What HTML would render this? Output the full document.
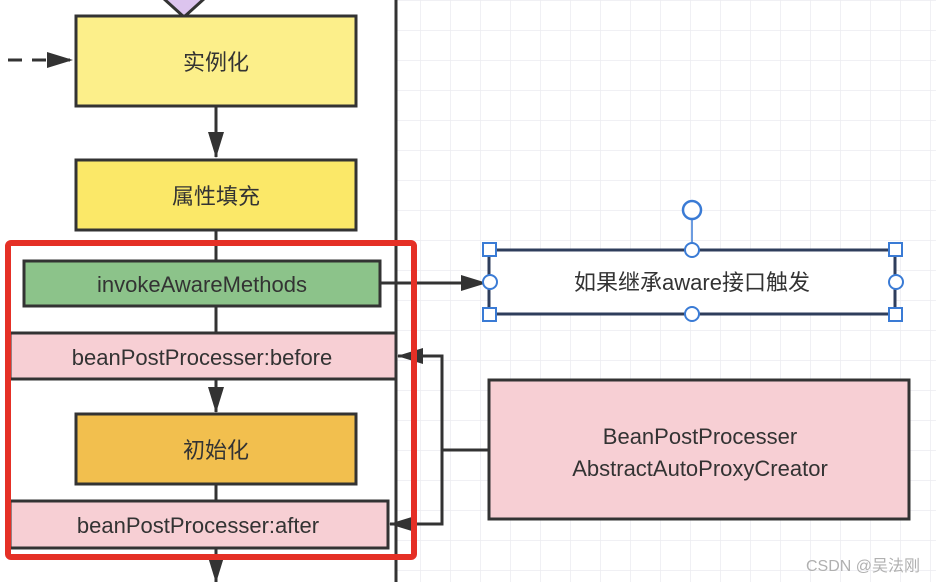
<!DOCTYPE html>
<html><head><meta charset="utf-8"><style>
html,body{margin:0;padding:0;background:#fff;}
svg{display:block;}
text{font-family:"Liberation Sans","Noto Sans CJK SC",sans-serif;fill:#333;}
</style></head><body>
<svg width="936" height="582" viewBox="0 0 936 582" xmlns="http://www.w3.org/2000/svg">
<defs>
<pattern id="g" x="1" y="1" width="30" height="30" patternUnits="userSpaceOnUse">
<path d="M30 0V30M0 30H30" stroke="#ececf0" stroke-width="1.5" fill="none"/>
</pattern>
<marker id="a" markerWidth="10" markerHeight="10" refX="9" refY="5" orient="auto" markerUnits="userSpaceOnUse" viewBox="0 0 10 10"><path d="M0 0L10 5L0 10Z" fill="#333"/></marker>
<marker id="b" markerWidth="26" markerHeight="16" refX="25" refY="8" orient="auto" markerUnits="userSpaceOnUse" viewBox="0 0 26 16"><path d="M0 0L26 8L0 16Z" fill="#333"/></marker>
</defs>
<rect x="396" y="0" width="540" height="582" fill="url(#g)"/>
<!-- diamond tip -->
<path d="M163 -2L184 17L205 -2" fill="#dcc4ee" stroke="#333" stroke-width="3"/>
<!-- dashed arrow -->
<path d="M8 60H72" stroke="#333" stroke-width="3" stroke-dasharray="14,10" marker-end="url(#b)"/>
<rect x="76" y="16" width="280" height="90" fill="#fcef8a" stroke="#333" stroke-width="3"/>
<text x="216" y="70" font-size="22" text-anchor="middle">实例化</text>
<path d="M216 106V157" stroke="#333" stroke-width="3" marker-end="url(#b)"/>
<rect x="76" y="160" width="280" height="70" fill="#fbe868" stroke="#333" stroke-width="3"/>
<text x="216" y="204" font-size="22" text-anchor="middle">属性填充</text>
<path d="M216 230V260M216 306V333M216 484V501" stroke="#333" stroke-width="3"/>
<path d="M216 379V412" stroke="#333" stroke-width="3" marker-end="url(#b)"/>
<path d="M216 548V582" stroke="#333" stroke-width="3" marker-end="url(#b)"/>
<!-- divider -->
<path d="M396 0V582" stroke="#333" stroke-width="3"/>
<rect x="24" y="261" width="356" height="45" fill="#8cc38a" stroke="#333" stroke-width="3"/>
<text x="202" y="292" font-size="22" text-anchor="middle">invokeAwareMethods</text>
<path d="M380 283H486" stroke="#333" stroke-width="3" marker-end="url(#b)"/>
<rect x="10" y="333" width="386" height="46" fill="#f7cfd4" stroke="#333" stroke-width="3"/>
<text x="202" y="365" font-size="22" text-anchor="middle">beanPostProcesser:before</text>
<rect x="76" y="414" width="280" height="70" fill="#f2bf4e" stroke="#333" stroke-width="3"/>
<text x="216" y="458" font-size="22" text-anchor="middle">初始化</text>
<rect x="10" y="501" width="378" height="47" fill="#f7cfd4" stroke="#333" stroke-width="3"/>
<text x="198" y="533" font-size="22" text-anchor="middle">beanPostProcesser:after</text>
<!-- bracket connector -->
<path d="M489 450H442V356H398" fill="none" stroke="#333" stroke-width="3" marker-end="url(#b)"/>
<path d="M442 450V524H390" fill="none" stroke="#333" stroke-width="3" marker-end="url(#b)"/>
<!-- red rect -->
<rect x="8" y="243" width="406" height="314" rx="3" fill="none" stroke="#e53026" stroke-width="6"/>
<!-- aware box -->
<rect x="489" y="250" width="406" height="64" fill="#fff" stroke="#2f3e5c" stroke-width="3"/>
<text x="692" y="290" font-size="22" text-anchor="middle">如果继承aware接口触发</text>
<path d="M692 219V250" stroke="#3a7bd5" stroke-width="1.5"/>
<circle cx="692" cy="210" r="9" fill="#fff" stroke="#3a7bd5" stroke-width="2.5"/>
<g fill="#fff" stroke="#3a7bd5" stroke-width="2">
<rect x="483" y="243" width="13" height="13"/><rect x="889" y="243" width="13" height="13"/>
<rect x="483" y="308" width="13" height="13"/><rect x="889" y="308" width="13" height="13"/>
<circle cx="692" cy="250" r="7"/><circle cx="692" cy="314" r="7"/>
<circle cx="490" cy="282" r="7"/><circle cx="896" cy="282" r="7"/>
</g>
<rect x="489" y="380" width="420" height="139" fill="#f7cfd4" stroke="#333" stroke-width="3"/>
<text x="700" y="444" font-size="22" text-anchor="middle">BeanPostProcesser</text>
<text x="700" y="476" font-size="22" text-anchor="middle">AbstractAutoProxyCreator</text>
<text x="920" y="571" font-size="16" text-anchor="end" style="fill:#b0b0b0">CSDN @吴法刚</text>
</svg>
</body></html>
